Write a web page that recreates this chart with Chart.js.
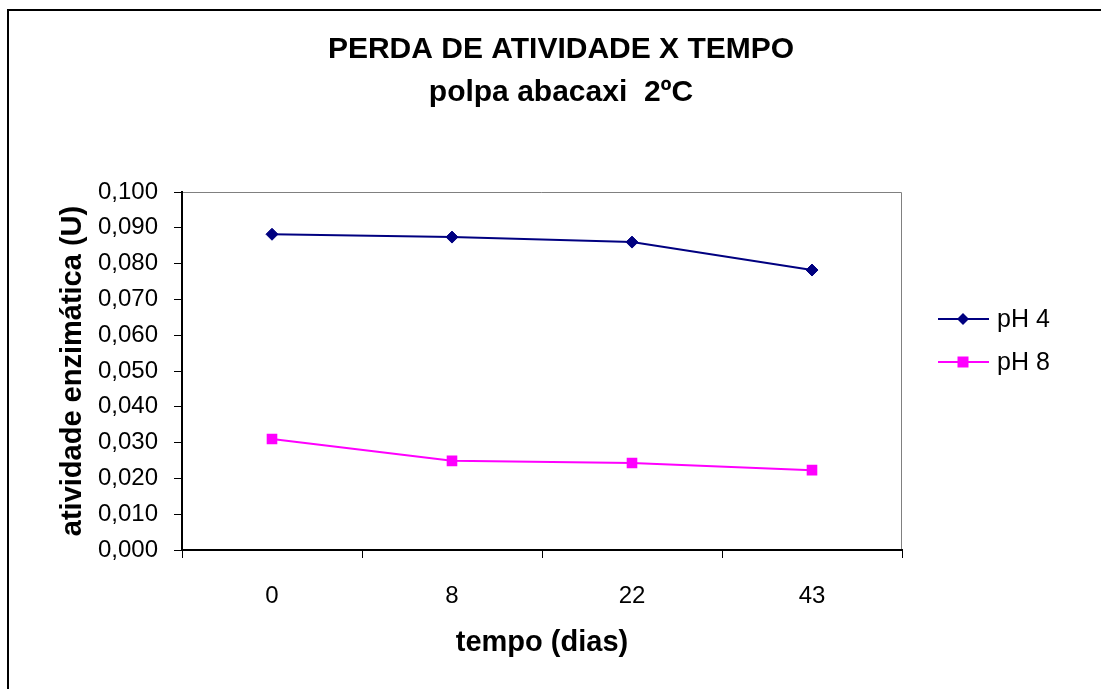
<!DOCTYPE html>
<html>
<head>
<meta charset="utf-8">
<script src="https://cdn.jsdelivr.net/npm/chart.js@4.4.1/dist/chart.umd.min.js"></script>
<style>
  html, body { margin: 0; padding: 0; background: #fff; overflow: hidden; }
  .wrap { position: relative; width: 1101px; height: 689px; }
</style>
</head>
<body>
<div class="wrap">
  <canvas id="lineChart" width="1101" height="689" aria-label="Perda de atividade x tempo"></canvas>
</div>
<script>
const categories = ['0', '8', '22', '43'];
const ph4Values = [0.0882, 0.0874, 0.0860, 0.0782];
const ph8Values = [0.0310, 0.0249, 0.0243, 0.0223];
const seriesNames = ['pH 4', 'pH 8'];
const titleLines = ['PERDA DE ATIVIDADE X TEMPO', 'polpa abacaxi  2ºC'];
const xTitle = 'tempo (dias)';
const yTitle = 'atividade enzimática (U)';

const FONT = "'Liberation Sans', Arial, sans-serif";

// frame, plot border, title and legend (Excel style)
const excelDecor = {
  id: 'excelDecor',
  beforeDraw(chart) {
    const { ctx, chartArea } = chart;
    ctx.save();
    ctx.strokeStyle = '#000';
    ctx.lineWidth = 2;
    ctx.beginPath();
    ctx.moveTo(8, 700);
    ctx.lineTo(8, 10);
    ctx.lineTo(1101, 10);
    ctx.stroke();
    ctx.strokeStyle = '#808080';
    ctx.lineWidth = 1;
    ctx.beginPath();
    ctx.moveTo(chartArea.left, chartArea.top + 0.5);
    ctx.lineTo(chartArea.right - 0.5, chartArea.top + 0.5);
    ctx.lineTo(chartArea.right - 0.5, chartArea.bottom);
    ctx.stroke();
    ctx.restore();
  },
  afterDraw(chart) {
    const { ctx, chartArea } = chart;
    ctx.save();
    ctx.fillStyle = '#000';
    ctx.textAlign = 'center';
    ctx.textBaseline = 'middle';
    ctx.font = 'bold 30px ' + FONT;
    ctx.fillText(titleLines[0], 561, 50);
    ctx.fillText(titleLines[1], 561, 93);

    // legend
    const lx = chartArea.right + 36;
    const rows = [319, 362];
    chart.data.datasets.forEach((ds, i) => {
      const y = rows[i];
      ctx.strokeStyle = ds.borderColor;
      ctx.lineWidth = 2;
      ctx.beginPath();
      ctx.moveTo(lx, y);
      ctx.lineTo(lx + 51, y);
      ctx.stroke();
      ctx.fillStyle = ds.pointBackgroundColor;
      const cx = lx + 25;
      ctx.beginPath();
      if (ds.pointStyle === 'rectRot') {
        ctx.moveTo(cx, y - 6);
        ctx.lineTo(cx + 6, y);
        ctx.lineTo(cx, y + 6);
        ctx.lineTo(cx - 6, y);
        ctx.closePath();
      } else {
        ctx.rect(cx - 5.5, y - 5.5, 11, 11);
      }
      ctx.fill();
      ctx.fillStyle = '#000';
      ctx.textAlign = 'left';
      ctx.font = '25px ' + FONT;
      ctx.fillText(ds.label, lx + 59, y + 1);
    });
    ctx.restore();
  }
};

new Chart(document.getElementById('lineChart'), {
  type: 'line',
  data: {
    labels: categories,
    datasets: [
      {
        label: seriesNames[0],
        data: ph4Values,
        borderColor: '#000080',
        backgroundColor: '#000080',
        pointBackgroundColor: '#000080',
        pointBorderColor: '#000080',
        pointStyle: 'rectRot',
        pointRadius: 6,
        pointBorderWidth: 1,
        borderWidth: 2,
        tension: 0,
      },
      {
        label: seriesNames[1],
        data: ph8Values,
        borderColor: '#FF00FF',
        backgroundColor: '#FF00FF',
        pointBackgroundColor: '#FF00FF',
        pointBorderColor: '#FF00FF',
        pointStyle: 'rect',
        pointRadius: 7.5,
        pointBorderWidth: 0,
        borderWidth: 2,
        tension: 0,
      },
    ],
  },
  options: {
    responsive: false,
    animation: false,
    events: [],
    layout: {
      padding: { left: 40, right: 199, top: 192, bottom: 0 },
    },
    plugins: {
      legend: { display: false },
      tooltip: { enabled: false },
      title: { display: false },
    },
    scales: {
      x: {
        offset: true,
        grid: {
          offset: true,
          drawOnChartArea: false,
          drawTicks: true,
          tickLength: 8,
          color: '#000',
        },
        border: { display: true, color: '#000', width: 2 },
        ticks: {
          color: '#000',
          font: { family: FONT, size: 24 },
          padding: 24,
          maxRotation: 0,
        },
        title: {
          display: true,
          text: xTitle,
          color: '#000',
          font: { family: FONT, size: 29, weight: 'bold' },
          padding: { top: 0, bottom: 29 },
        },
        afterFit(scale) {
          scale.height = 139;
        },
      },
      y: {
        min: 0,
        max: 0.1,
        grid: {
          drawOnChartArea: false,
          drawTicks: true,
          tickLength: 8,
          color: '#000',
        },
        border: { display: true, color: '#000', width: 2 },
        ticks: {
          stepSize: 0.01,
          color: '#000',
          padding: 16,
          font: { family: FONT, size: 24 },
          callback: (v) => Number(v).toFixed(3).replace('.', ','),
        },
        title: {
          display: true,
          text: yTitle,
          color: '#000',
          font: { family: FONT, size: 29, weight: 'bold' },
          padding: { top: 16, bottom: 0 },
        },
        afterFit(scale) {
          scale.width = 142;
        },
      },
    },
  },
  plugins: [excelDecor],
});
</script>
</body>
</html>
